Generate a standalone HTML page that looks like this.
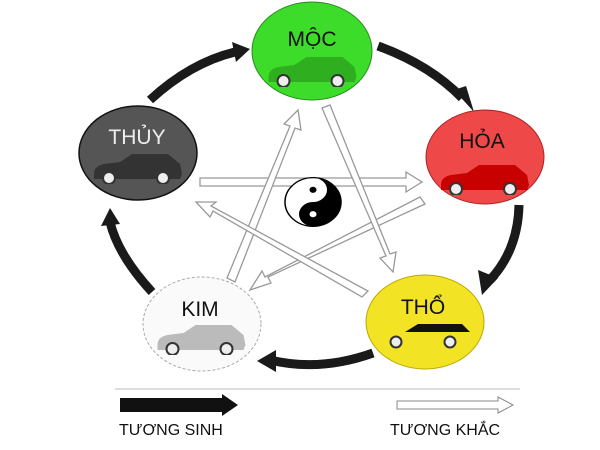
<!DOCTYPE html>
<html><head><meta charset="utf-8"><style>
html,body{margin:0;padding:0;background:#fff;width:600px;height:450px;overflow:hidden}
svg{display:block}
text{font-family:"Liberation Sans","DejaVu Sans",sans-serif}
</style></head><body>
<svg width="600" height="450" viewBox="0 0 600 450" xmlns="http://www.w3.org/2000/svg">
<defs>
<symbol id="car" viewBox="0 0 92 32">
<path d="M2,22 Q2,14 12,12 L28,10 L40,2 L76,2 L88,12 L90,22 L88,27 L2,27 Z"/>
<circle cx="17" cy="26" r="6" fill="#eee" stroke="#333" stroke-width="2"/>
<circle cx="71" cy="26" r="6" fill="#eee" stroke="#333" stroke-width="2"/>
</symbol>
</defs>

<g fill="none" stroke="#1a1a1a" stroke-width="9">
<path d="M378,46 Q430,65 462,98"/>
<path d="M519,205 Q518,250 490,280"/>
<path d="M373,353 Q320,372 270,360"/>
<path d="M152,292 Q118,255 110,222"/>
<path d="M150,100 Q190,63 235,52"/>
</g>
<g fill="#1a1a1a">
<polygon points="454,90 474,112 466,86"/>
<polygon points="478,270 482,295 498,278"/>
<polygon points="276,350 257,361 276,372"/>
<polygon points="101,226 110,208 120,224"/>
<polygon points="232,42 250,49 236,62"/>
</g>

<g fill="#fff" stroke="#999" stroke-width="1.3">
<polygon points="200,178 406,178 406,172 422,182 406,192 406,186 200,186"/>
<polygon points="425,204 268,277 271,283 250,290 262,271 265,277 420,197"/>
<polygon points="227,278 290,126 284,124 298,110 301,130 295,128 235,282"/>
<polygon points="322,108 330,105 390,254 396,252 393,272 380,258 386,256"/>
<polygon points="368,291 362,297 213,211 210,217 196,202 216,202 211,206"/>
</g>

<g transform="translate(313,202) scale(1,0.87)">
<circle r="28" fill="#fff" stroke="#000" stroke-width="1.5"/>
<path d="M0,-28 A28,28 0 0,1 0,28 A14,14 0 0,1 0,0 A14,14 0 0,0 0,-28Z" fill="#000"/>
<circle cx="0" cy="-14" r="3.5" fill="#000"/>
<circle cx="0" cy="14" r="3.5" fill="#fff"/>
</g>

<ellipse cx="312" cy="51" rx="60" ry="49" fill="#3ddc2a" stroke="#2a8a1f" stroke-width="1"/>
<ellipse cx="485" cy="157" rx="59" ry="47" fill="#ef4848" stroke="#a22" stroke-width="1"/>
<ellipse cx="138" cy="153" rx="59" ry="47" fill="#555" stroke="#111" stroke-width="1.5"/>
<ellipse cx="202" cy="324" rx="59" ry="47" fill="#fafafa" stroke="#aaa" stroke-width="1" stroke-dasharray="3,2"/>
<ellipse cx="425" cy="322" rx="59" ry="47" fill="#f2e324" stroke="#bba800" stroke-width="1"/>

<use href="#car" x="265" y="55" width="95" height="32" fill="#2fae1f"/>
<use href="#car" x="435" y="163" width="100" height="32" fill="#c80000"/>
<use href="#car" x="90" y="152" width="96" height="32" fill="#333"/>
<use href="#car" x="150" y="323" width="103" height="32" fill="#bbb"/>
<path d="M405,332 L418,324 L462,324 L470,332 Z" fill="#111"/>
<circle cx="396" cy="342" r="5.5" fill="#eee" stroke="#333" stroke-width="2"/>
<circle cx="450" cy="342" r="5.5" fill="#eee" stroke="#333" stroke-width="2"/>

<text x="312" y="46" font-size="21" text-anchor="middle" fill="#111">MỘC</text>
<text x="482" y="148" font-size="21" text-anchor="middle" fill="#111">HỎA</text>
<text x="137" y="144" font-size="21" text-anchor="middle" fill="#eee">THỦY</text>
<text x="200" y="316" font-size="21" text-anchor="middle" fill="#111">KIM</text>
<text x="423" y="314" font-size="21" text-anchor="middle" fill="#111">THỔ</text>

<line x1="115" y1="389" x2="520" y2="389" stroke="#bbb" stroke-width="1"/>
<polygon points="120,398 222,398 222,394 238,405 222,416 222,412 120,412" fill="#111"/>
<polygon points="397,401 498,401 498,397 513,405 498,413 498,409 397,409" fill="#fff" stroke="#888" stroke-width="1"/>
<text x="119" y="435" font-size="16" fill="#111">TƯƠNG SINH</text>
<text x="390" y="435" font-size="16" fill="#111">TƯƠNG KHẮC</text>
</svg>
</body></html>
